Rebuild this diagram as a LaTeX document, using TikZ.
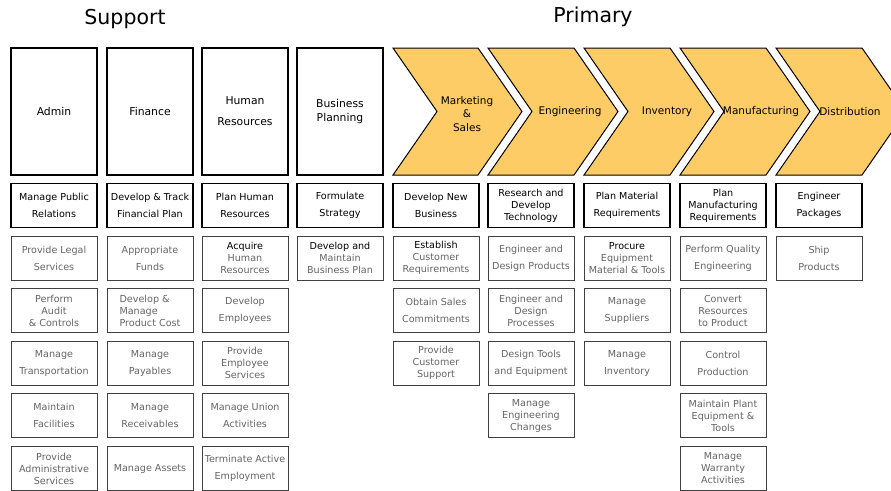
\documentclass[tikz,border=0pt]{standalone}
\usepackage{fontspec}
\setmainfont{DejaVu Sans}
\definecolor{chevron}{RGB}{254,204,102}
\definecolor{taskgray}{RGB}{100,100,100}
\definecolor{taskline}{RGB}{64,64,64}

\begin{document}
\begin{tikzpicture}[
    x=1pt, y=-1pt,
    node distance=52.6pt,
    title/.style={font=\fontsize{20.5}{24}\selectfont},
    area/.style={rectangle, draw, line width=1.1pt, minimum width=86pt, minimum height=127pt, align=center, font=\fontsize{10.8}{21}\selectfont},
    chain/.style={draw, line width=1pt, fill=chevron, line join=miter},
    stage/.style={inner sep=0pt, align=center, font=\fontsize{10.5}{13.5}\selectfont},
    lead/.style={rectangle, draw, line width=1.1pt, minimum width=86pt, minimum height=44pt, inner sep=1pt, align=center, font=\fontsize{9.6}{17}\selectfont},
    task/.style={lead, draw=taskline, line width=0.9pt, text=taskgray},
    tight/.style={font=\fontsize{9.6}{12}\selectfont}
]
\useasboundingbox (0,0) rectangle (891,490);
\clip (0,0) rectangle (891,490);

% Titles
\node[title] (support) at (125,19) {Support};
\node[title] (primary) at (593,17) {Primary};

% Support areas
\node[area] (admin) at (54,111.5) {Admin};
\node[area] (finance) at (150,111.5) {Finance};
\node[area] (hr) at (245,111.5) {Human\\Resources};
\node[area, font=\fontsize{10.8}{14}\selectfont] (bizplan) at (340,111.5) {Business\\Planning};

% Primary chain
\draw[chain] (393,48) -- ++(85,0) -- ++(44,63.5) -- ++(-44,63.5) -- ++(-85,0) -- ++(44,-63.5) -- cycle;
\draw[chain] (488,48) -- ++(86,0) -- ++(44,63.5) -- ++(-44,63.5) -- ++(-86,0) -- ++(44,-63.5) -- cycle;
\draw[chain] (584,48) -- ++(86,0) -- ++(44,63.5) -- ++(-44,63.5) -- ++(-86,0) -- ++(44,-63.5) -- cycle;
\draw[chain] (680,48) -- ++(86,0) -- ++(44,63.5) -- ++(-44,63.5) -- ++(-86,0) -- ++(44,-63.5) -- cycle;
\draw[chain] (776,48) -- ++(86,0) -- ++(44,63.5) -- ++(-44,63.5) -- ++(-86,0) -- ++(44,-63.5) -- cycle;
\node[stage] (mktsales) at (467,114) {Marketing\\\&\\Sales};
\node[stage] (engineering) at (570,111.5) {Engineering};
\node[stage] (inventory) at (667,111.5) {Inventory};
\node[stage] (manufacturing) at (761,111.5) {Manufacturing};
\node[stage] (distribution) at (850,111.5) {Distribution};

% Admin
\node[lead, below of=admin, yshift=-41.4pt] (admin1) {Manage Public\\Relations};
\node[task, below of=admin1] (admin2) {Provide Legal\\Services};
\node[task, tight, below of=admin2] (admin3) {Perform\\Audit\\\& Controls};
\node[task, below of=admin3] (admin4) {Manage\\Transportation};
\node[task, below of=admin4] (admin5) {Maintain\\Facilities};
\node[task, tight, below of=admin5] (admin6) {Provide\\Administrative\\Services};

% Finance
\node[lead, below of=finance, yshift=-41.4pt] (fin1) {Develop \& Track\\Financial Plan};
\node[task, below of=fin1] (fin2) {Appropriate\\Funds};
\node[task, tight, align=left, below of=fin2] (fin3) {Develop \&\\Manage\\Product Cost};
\node[task, below of=fin3] (fin4) {Manage\\Payables};
\node[task, below of=fin4] (fin5) {Manage\\Receivables};
\node[task, below of=fin5] (fin6) {Manage Assets};

% Human Resources
\node[lead, below of=hr, yshift=-41.4pt] (hr1) {Plan Human\\Resources};
\node[task, tight, below of=hr1] (hr2) {{\color{black}Acquire}\\Human\\Resources};
\node[task, below of=hr2] (hr3) {Develop\\Employees};
\node[task, tight, below of=hr3] (hr4) {Provide\\Employee\\Services};
\node[task, below of=hr4] (hr5) {Manage Union\\Activities};
\node[task, below of=hr5] (hr6) {Terminate Active\\Employment};

% Business Planning
\node[lead, below of=bizplan, yshift=-41.4pt] (bp1) {Formulate\\Strategy};
\node[task, tight, below of=bp1] (bp2) {{\color{black}Develop and}\\Maintain\\Business Plan};

% Marketing & Sales
\node[lead] (ms1) at (436,205.5) {Develop New\\Business};
\node[task, tight, below of=ms1] (ms2) {{\color{black}Establish}\\Customer\\Requirements};
\node[task, below of=ms2] (ms3) {Obtain Sales\\Commitments};
\node[task, tight, below of=ms3] (ms4) {Provide\\Customer\\Support};

% Engineering
\node[lead, tight] (eng1) at (531,205.5) {Research and\\Develop\\Technology};
\node[task, below of=eng1] (eng2) {Engineer and\\Design Products};
\node[task, tight, below of=eng2] (eng3) {Engineer and\\Design\\Processes};
\node[task, below of=eng3] (eng4) {Design Tools\\and Equipment};
\node[task, tight, below of=eng4] (eng5) {Manage\\Engineering\\Changes};

% Inventory
\node[lead] (inv1) at (627,205.5) {Plan Material\\Requirements};
\node[task, tight, below of=inv1] (inv2) {{\color{black}Procure}\\Equipment\\Material \& Tools};
\node[task, below of=inv2] (inv3) {Manage\\Suppliers};
\node[task, below of=inv3] (inv4) {Manage\\Inventory};

% Manufacturing
\node[lead, tight] (mfg1) at (723,205.5) {Plan\\Manufacturing\\Requirements};
\node[task, below of=mfg1] (mfg2) {Perform Quality\\Engineering};
\node[task, tight, below of=mfg2] (mfg3) {Convert\\Resources\\to Product};
\node[task, below of=mfg3] (mfg4) {Control\\Production};
\node[task, tight, below of=mfg4] (mfg5) {Maintain Plant\\Equipment \&\\Tools};
\node[task, tight, below of=mfg5] (mfg6) {Manage\\Warranty\\Activities};

% Distribution
\node[lead] (dist1) at (819,205.5) {Engineer\\Packages};
\node[task, below of=dist1] (dist2) {Ship\\Products};

\end{tikzpicture}
\end{document}
